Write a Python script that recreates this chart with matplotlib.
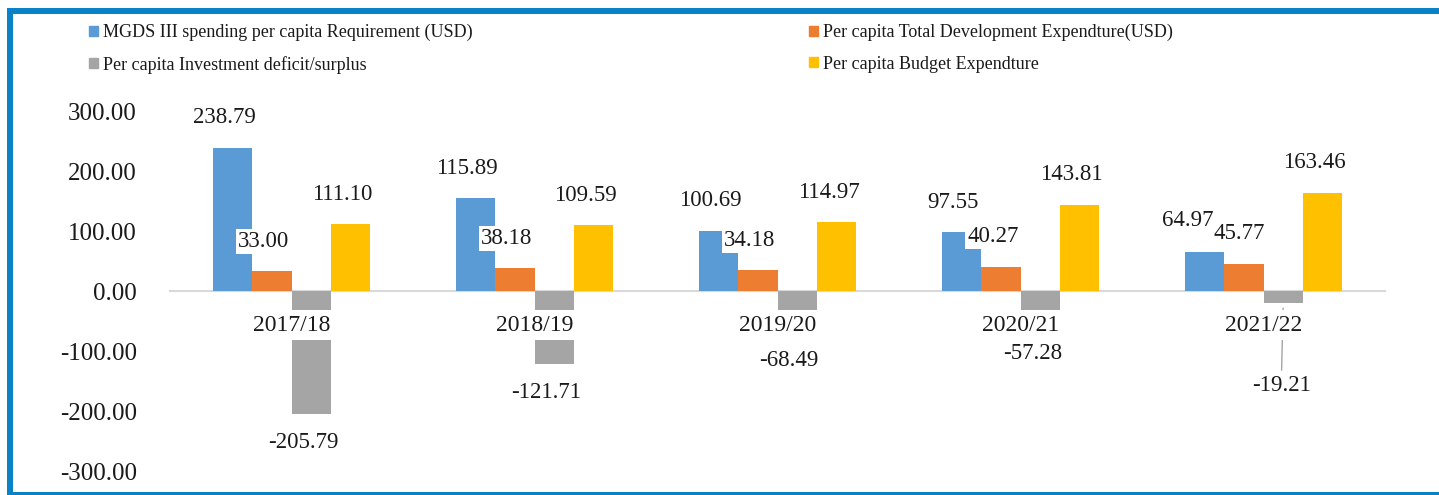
import numpy as np
import matplotlib
matplotlib.use("Agg")
import matplotlib.pyplot as plt
from matplotlib.lines import Line2D
from matplotlib.patches import Patch

plt.rcParams['font.family'] = ['Liberation Serif', 'DejaVu Serif']
plt.rcParams['axes.unicode_minus'] = False

# data
years = ['2017/18', '2018/19', '2019/20', '2020/21', '2021/22']
mgds_req = [238.79, 155.0, 100.69, 97.55, 64.97]        # bar heights as drawn
mgds_req_labels = ['238.79', '115.89', '100.69', '97.55', '64.97']
dev_exp = [33.00, 38.18, 34.18, 40.27, 45.77]
deficit = [-205.79, -121.71, -68.49, -57.28, -19.21]
budget_exp = [111.10, 109.59, 114.97, 143.81, 163.46]
yticks = [-300, -200, -100, 0, 100, 200, 300]

series_names = ['MGDS III spending per capita Requirement (USD)',
                'Per capita Total Development Expendture(USD)',
                'Per capita Investment deficit/surplus',
                'Per capita Budget Expendture']
colors = ['#5b9bd5', '#ed7d31', '#a5a5a5', '#ffc000']

W, H = 1439, 495
fig = plt.figure(figsize=(W / 100, H / 100), dpi=100)
ax = fig.add_axes([170 / W, (H - 471) / H, (1385 - 170) / W, 360 / H])

x = np.arange(len(years))
bw = 0.1625
all_vals = [mgds_req, dev_exp, deficit, budget_exp]
all_labels = [mgds_req_labels,
              ['%.2f' % v for v in dev_exp],
              ['%.2f' % v for v in deficit],
              ['%.2f' % v for v in budget_exp]]

for i, (vals, c) in enumerate(zip(all_vals, colors)):
    ax.bar(x + (i - 1.5) * bw, vals, bw, color=c, zorder=1)

# label nudges in pixels (series, year) -> (dx, dy), as placed in the original
nudge = {(0, 4): (-17, 32), (1, 4): (-5, 30), (2, 4): (-2, -83)}

# data labels (white boxes, like the original)
px = 0.72  # points per pixel at 100 dpi
for i, (vals, labs) in enumerate(zip(all_vals, all_labels)):
    for j, (v, lab) in enumerate(zip(vals, labs)):
        xb = x[j] + (i - 1.5) * bw
        dx, dy = nudge.get((i, j), (-8, 30 if v >= 0 else -28))
        kw = {}
        if (i, j) == (2, 4):
            # the small deficit label pushed down with a leader line
            kw['arrowprops'] = dict(arrowstyle='-', color='#a5a5a5', lw=1,
                                    shrinkA=2, shrinkB=4)
        ax.annotate(lab, (xb, v), xytext=(dx * px, dy * px),
                    textcoords='offset points', ha='center', va='center',
                    fontsize=16.5, color='#1a1a1a', zorder=4,
                    bbox=dict(facecolor='white', edgecolor='none', pad=1.5),
                    **kw)

ax.set_xlim(-0.5, len(years) - 0.5)
ax.set_ylim(-300, 300)
ax.set_yticks(yticks)
ax.set_yticklabels(['%.2f' % t for t in yticks])
ax.set_xticks(x)
ax.set_xticklabels(years)

for s in ['top', 'right', 'left']:
    ax.spines[s].set_visible(False)
ax.spines['bottom'].set_position(('data', 0))
ax.spines['bottom'].set_color('#d9d9d9')
ax.spines['bottom'].set_linewidth(1.5)
ax.spines['bottom'].set_zorder(0.8)

ax.tick_params(axis='y', length=0, pad=24, labelsize=18, labelcolor='#1a1a1a')
ax.tick_params(axis='x', length=0, pad=17, labelsize=17, labelcolor='#1a1a1a')
for lbl in ax.get_xticklabels():
    lbl.set_bbox(dict(facecolor='white', edgecolor='none', pad=3))
ax.xaxis.set_zorder(5)

# legend in two columns, two rows
h = [Patch(color=c) for c in colors]
leg_kw = dict(frameon=False, fontsize=13, handlelength=0.5, handleheight=0.5,
              handletextpad=0.3, labelspacing=0.8, borderpad=0,
              borderaxespad=0, labelcolor='#1a1a1a')
fig.legend([h[0], h[2]], [series_names[0], series_names[2]],
           loc='upper left', bbox_to_anchor=(89 / W, 1 - 24 / H), **leg_kw)
fig.legend([h[1], h[3]], [series_names[1], series_names[3]],
           loc='upper left', bbox_to_anchor=(809 / W, 1 - 24 / H), **leg_kw)

# blue frame
frame_c = '#0a82c8'
lw = 6 * px
fig.add_artist(Line2D([10 / W, 10 / W], [0, 1 - 11 / H], color=frame_c, lw=lw,
                      transform=fig.transFigure, solid_capstyle='projecting'))
fig.add_artist(Line2D([10 / W, 1], [1 - 11 / H, 1 - 11 / H], color=frame_c, lw=lw,
                      transform=fig.transFigure, solid_capstyle='projecting'))
fig.add_artist(Line2D([10 / W, 1], [1 - 495 / H, 1 - 495 / H], color=frame_c, lw=lw,
                      transform=fig.transFigure, solid_capstyle='projecting'))

fig.savefig('out.png', dpi=100, facecolor='white')
